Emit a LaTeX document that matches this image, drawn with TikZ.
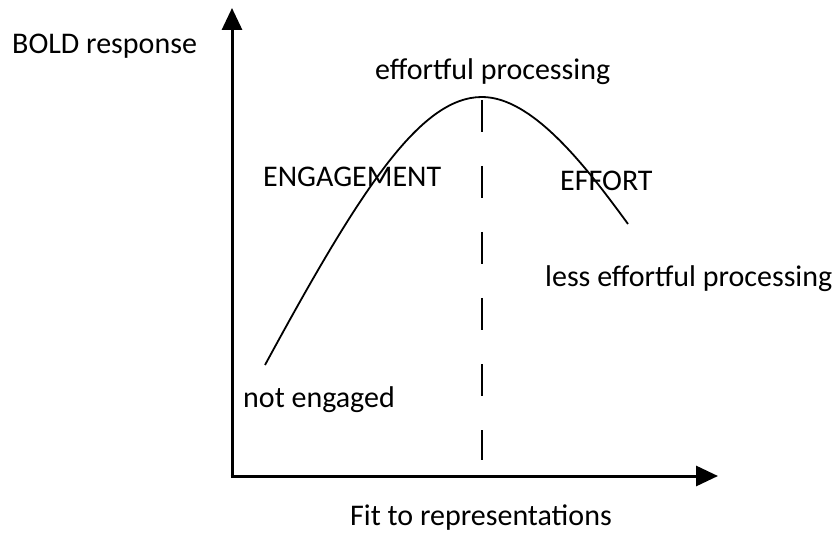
\documentclass[tikz,border=0pt]{standalone}
\usepackage{fontspec}
\setmainfont{Carlito}
\usetikzlibrary{arrows.meta}
\begin{document}
\begin{tikzpicture}[x=1pt,y=-1pt,
  axis/.style={line width=3pt,-{Triangle[length=22pt,width=20pt]}},
  curve/.style={line width=1.8pt},
  divider/.style={line width=1.8pt,dash pattern=on 32pt off 34pt},
  lbl/.style={inner sep=0pt,anchor=base west,font=\fontsize{30}{36}\selectfont}]
\useasboundingbox (0,0) rectangle (832,534);
\coordinate (O) at (232,476);
\coordinate (ytip) at (232,8);
\coordinate (xtip) at (718,476);
\coordinate (start) at (265,365);
\coordinate (peak) at (482,97);
\coordinate (end) at (628,224);
\coordinate (dtop) at (482,100);
\coordinate (dbot) at (482,460);
\draw[axis] (O) -- (ytip);
\draw[axis] ([xshift=-1.5pt]O) -- (xtip);
\draw[curve] (start) .. controls (360,190) and (420,97) .. (peak)
  .. controls (532,97) and (585,165) .. (end);
\draw[divider] (dtop) -- (dbot);
\node[lbl] (bold) at (12,54) {BOLD response};
\node[lbl] (effp) at (375,80) {effortful processing};
\node[lbl] (eng) at (263,187) {ENGAGEMENT};
\node[lbl] (eff) at (560,191) {EFFORT};
\node[lbl] (less) at (545,287) {less effortful processing};
\node[lbl] (not) at (243,407) {not engaged};
\node[lbl] (fit) at (350,525) {Fit to representations};
\end{tikzpicture}
\end{document}
